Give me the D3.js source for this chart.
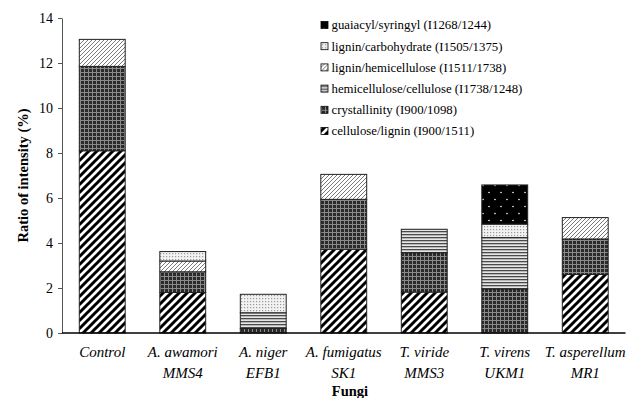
<!DOCTYPE html>
<html>
<head>
<meta charset="utf-8">
<script src="https://cdn.jsdelivr.net/npm/d3@7"></script>
<style>
	body { margin: 0; background: #fff; }
	svg { display: block; }
	svg text { font-family: 'Liberation Serif', 'Times New Roman', serif; fill: #000; }
</style>
</head>
<body>
<div id="chart"></div>
<script>
// Categories (two-line labels)
const fungi = ['Control', 'A. awamori', 'A. niger', 'A. fumigatus', 'T. viride', 'T. virens', 'T. asperellum'];
const strains = ['', 'MMS4', 'EFB1', 'SK1', 'MMS3', 'UKM1', 'MR1'];

// Series, bottom to top of each stack
const seriesNames = [
	'cellulose/lignin (I900/1511)',
	'crystallinity (I900/1098)',
	'hemicellulose/cellulose (I1738/1248)',
	'lignin/hemicellulose (I1511/1738)',
	'lignin/carbohydrate (I1505/1375)',
	'guaiacyl/syringyl (I1268/1244)'
];
const celluloseLignin = [8.1, 1.8, 0, 3.72, 1.82, 0, 2.6];
const crystallinity = [3.75, 0.92, 0.2, 2.22, 1.75, 1.96, 1.58];
const hemicelluloseCellulose = [0, 0, 0.7, 0, 1.04, 2.28, 0];
const ligninHemicellulose = [1.2, 0.48, 0, 1.11, 0, 0, 0.95];
const ligninCarbohydrate = [0, 0.42, 0.82, 0, 0, 0.6, 0];
const guaiacylSyringyl = [0, 0, 0, 0, 0, 1.74, 0];

const yTicks = [0, 2, 4, 6, 8, 10, 12, 14];

const seriesValues = [celluloseLignin, crystallinity, hemicelluloseCellulose,
	ligninHemicellulose, ligninCarbohydrate, guaiacylSyringyl];

const rows = fungi.map((f, i) => {
	const row = { fungus: f };
	seriesNames.forEach((s, j) => { row[s] = seriesValues[j][i]; });
	return row;
});

const width = 644, height = 398;
const margin = { top: 18, right: 18.5, bottom: 65, left: 62 };

const svg = d3.select('#chart').append('svg')
	.attr('width', width)
	.attr('height', height);

// Fill patterns
const defs = svg.append('defs');
const pat = (id, w, h) => defs.append('pattern')
	.attr('id', id)
	.attr('patternUnits', 'userSpaceOnUse')
	.attr('width', w)
	.attr('height', h);

// wide black diagonals
let p = pat('p0', 8, 8);
p.append('rect').attr('width', 8).attr('height', 8).attr('fill', '#fff');
p.append('path').attr('d', 'M-2,2 l4,-4 M0,8 l8,-8 M6,10 l4,-4')
	.attr('stroke', '#000').attr('stroke-width', 3);

// dark grid
p = pat('p1', 4, 4);
p.append('rect').attr('width', 4).attr('height', 4).attr('fill', '#8a8a8a');
p.append('rect').attr('x', 1).attr('y', 1).attr('width', 3).attr('height', 3).attr('fill', '#2a2a2a');

// horizontal lines
p = pat('p2', 3, 3);
p.append('rect').attr('width', 3).attr('height', 3).attr('fill', '#e6e6e6');
p.append('rect').attr('width', 3).attr('height', 1.3).attr('fill', '#4a4a4a');

// light thin diagonals
p = pat('p3', 4, 4);
p.append('rect').attr('width', 4).attr('height', 4).attr('fill', '#fff');
p.append('path').attr('d', 'M-1,1 l2,-2 M0,4 l4,-4 M3,5 l2,-2')
	.attr('stroke', '#777').attr('stroke-width', 1);

// light dots
p = pat('p4', 3, 3);
p.append('rect').attr('width', 3).attr('height', 3).attr('fill', '#f2f2f2');
p.append('rect').attr('x', 1).attr('y', 1).attr('width', 1.2).attr('height', 1.2).attr('fill', '#999');

// black with white dots
p = pat('p5', 12, 14);
p.append('rect').attr('width', 12).attr('height', 14).attr('fill', '#000');
p.append('circle').attr('cx', 3).attr('cy', 3.5).attr('r', 0.8).attr('fill', '#fff');
p.append('circle').attr('cx', 9).attr('cy', 10.5).attr('r', 0.8).attr('fill', '#fff');

const x = d3.scaleBand()
	.domain(fungi)
	.range([margin.left, width - margin.right])
	.paddingInner(0.43)
	.paddingOuter(0.215);

const y = d3.scaleLinear()
	.domain([0, 14])
	.range([height - margin.bottom, margin.top]);

const stack = d3.stack().keys(seriesNames)(rows);

// Bars
svg.append('g')
	.selectAll('g')
	.data(stack)
	.join('g')
	.attr('fill', (d, i) => `url(#p${i})`)
	.selectAll('rect')
	.data(d => d.filter(s => s[1] - s[0] > 0))
	.join('rect')
	.attr('x', d => x(d.data.fungus))
	.attr('y', d => y(d[1]))
	.attr('width', x.bandwidth())
	.attr('height', d => y(d[0]) - y(d[1]))
	.attr('stroke', '#222')
	.attr('stroke-width', 1);

// Y axis
const yAxis = svg.append('g')
	.attr('transform', `translate(${margin.left},0)`)
	.call(d3.axisLeft(y).tickValues(yTicks).tickSize(4).tickSizeOuter(0).tickPadding(5));
yAxis.selectAll('text').attr('font-size', 14);
yAxis.selectAll('line, path').attr('stroke', '#555');

// X axis line
svg.append('line')
	.attr('x1', margin.left)
	.attr('x2', width - margin.right)
	.attr('y1', y(0))
	.attr('y2', y(0))
	.attr('stroke', '#000')
	.attr('stroke-width', 1.5);

// Category labels
const labels = svg.append('g')
	.attr('font-size', 15)
	.attr('font-style', 'italic')
	.attr('text-anchor', 'middle');
fungi.forEach((f, i) => {
	const cx = x(f) + x.bandwidth() / 2;
	labels.append('text').attr('x', cx).attr('y', 357).text(f);
	labels.append('text').attr('x', cx).attr('y', 378).text(strains[i]);
});

// Axis titles
svg.append('text')
	.attr('x', 350)
	.attr('y', 396)
	.attr('text-anchor', 'middle')
	.attr('font-size', 14.5)
	.attr('font-weight', 'bold')
	.text('Fungi');

svg.append('text')
	.attr('transform', `translate(28,${(y(0) + y(14)) / 2}) rotate(-90)`)
	.attr('text-anchor', 'middle')
	.attr('font-size', 14.5)
	.attr('font-weight', 'bold')
	.text('Ratio of intensity (%)');

// Legend (reverse order)
const legend = svg.append('g')
	.attr('transform', 'translate(321,25)')
	.attr('font-size', 12.8);
const legendItems = seriesNames.map((s, i) => ({ s, i })).reverse();
legendItems.forEach((d, k) => {
	const g = legend.append('g').attr('transform', `translate(0,${k * 21.2})`);
	g.append('rect')
		.attr('x', 0).attr('y', -3.5)
		.attr('width', 7).attr('height', 7)
		.attr('fill', `url(#p${d.i})`)
		.attr('stroke', '#000')
		.attr('stroke-width', 0.8);
	g.append('text')
		.attr('x', 10.5)
		.attr('y', 0)
		.attr('dy', '0.35em')
		.text(d.s);
});
</script>
</body>
</html>
